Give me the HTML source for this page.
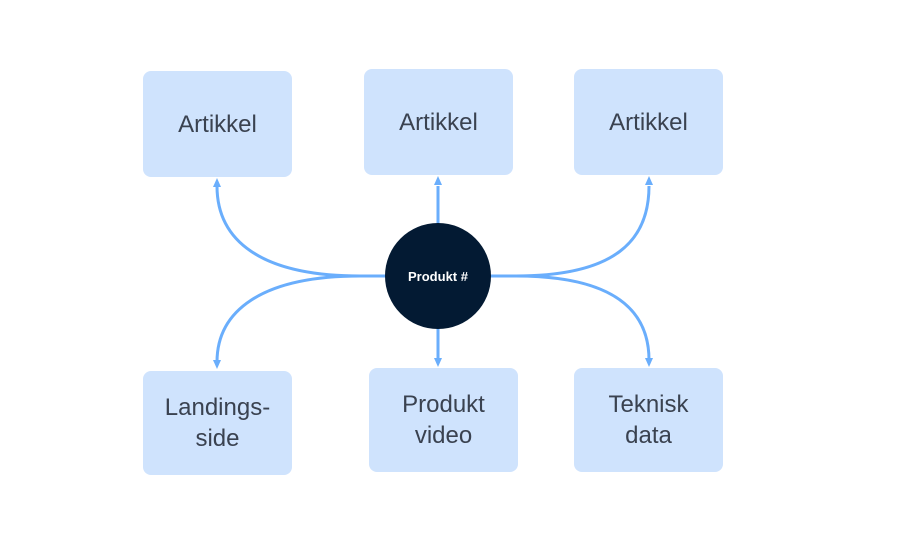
<!DOCTYPE html>
<html><head><style>
body{margin:0;background:#fff;}
.b{position:absolute;background:#cfe3fd;border-radius:8px;display:flex;align-items:center;justify-content:center;text-align:center;font-family:"Liberation Sans",sans-serif;font-size:24px;color:#3a4250;line-height:31px;}
</style></head><body>
<div style="position:relative;width:902px;height:548px;overflow:hidden">
<div class="b" style="left:143px;top:71px;width:149px;height:106px">Artikkel</div>
<div class="b" style="left:364px;top:69px;width:149px;height:106px">Artikkel</div>
<div class="b" style="left:574px;top:69px;width:149px;height:106px">Artikkel</div>
<div class="b" style="left:143px;top:371px;width:149px;height:104px">Landings-<br>side</div>
<div class="b" style="left:369px;top:368px;width:149px;height:104px">Produkt<br>video</div>
<div class="b" style="left:574px;top:368px;width:149px;height:104px">Teknisk<br>data</div>
<svg width="902" height="548" style="position:absolute;left:0;top:0">
<g stroke="#6aaefc" stroke-width="3" fill="none">
<path d="M386 276 L360 276 C260 276 217 240 217 186"/>
<path d="M386 276 L360 276 C260 276 217 312 217 362"/>
<path d="M490 276 L516 276 C616 276 649 240 649 186"/>
<path d="M490 276 L516 276 C616 276 649 312 649 360"/>
<path d="M438 224 L438 186"/>
<path d="M438 328 L438 360"/>
</g>
<g fill="#6aaefc">
<path d="M217 178 l-4 9 h8z"/><path d="M217 369 l-4 -9 h8z"/>
<path d="M438 176 l-4 9 h8z"/><path d="M438 367 l-4 -9 h8z"/>
<path d="M649 176 l-4 9 h8z"/><path d="M649 367 l-4 -9 h8z"/>
</g>
<circle cx="438" cy="276" r="53" fill="#031a33"/>
<text x="438" y="281" fill="#fff" font-family="Liberation Sans,sans-serif" font-size="13" font-weight="bold" text-anchor="middle">Produkt #</text>
</svg>
</div>
</body></html>
